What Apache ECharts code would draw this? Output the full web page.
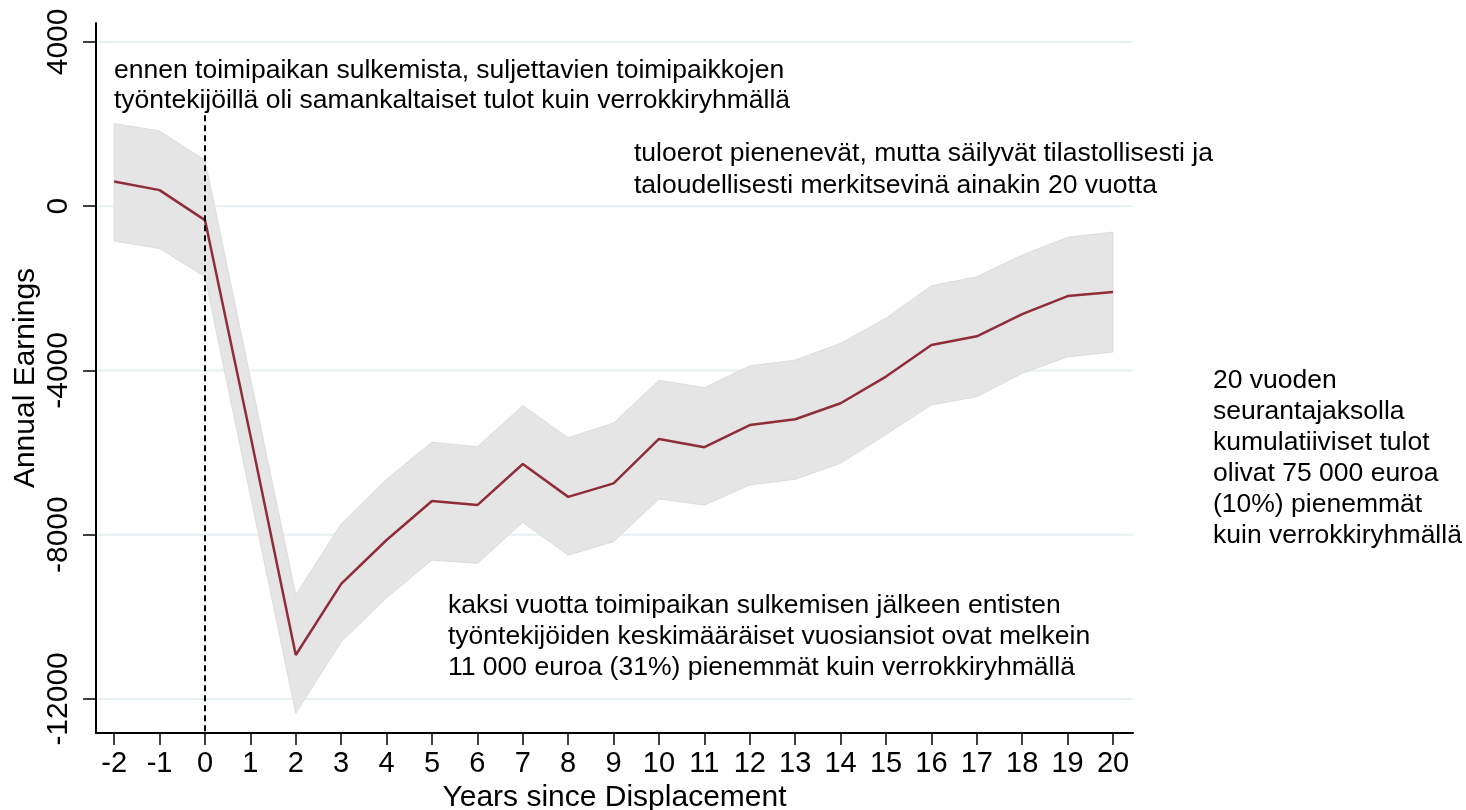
<!DOCTYPE html>
<html>
<head>
<meta charset="utf-8">
<script src="https://cdn.jsdelivr.net/npm/echarts@6/dist/echarts.min.js"></script>
<style>
html,body{margin:0;padding:0;background:#fff;}
#chart{width:1466px;height:810px;}
</style>
</head>
<body>
<div id="chart"></div>
<script>
// ---- data ----
var years = [-2,-1,0,1,2,3,4,5,6,7,8,9,10,11,12,13,14,15,16,17,18,19,20];
var estimate = [600,390,-340,-5580,-10930,-9200,-8130,-7180,-7280,-6280,-7080,-6750,-5670,-5870,-5330,-5190,-4800,-4150,-3380,-3170,-2630,-2190,-2090];
var upper = [2010,1830,1120,-4180,-9470,-7740,-6650,-5750,-5860,-4860,-5640,-5280,-4240,-4420,-3890,-3750,-3340,-2730,-1940,-1720,-1190,-760,-630];
var lower = [-850,-1030,-1720,-7040,-12350,-10610,-9540,-8620,-8700,-7700,-8500,-8170,-7130,-7280,-6790,-6650,-6260,-5560,-4840,-4640,-4070,-3670,-3550];
var yTicks = [-12000,-8000,-4000,0,4000];
var xTicks = years.slice();
var xName = 'Years since Displacement';
var yName = 'Annual Earnings';
var eventYear = 0;
var eventLineTop = 2215;
var notes = {
  before: 'ennen toimipaikan sulkemista, suljettavien toimipaikkojen\ntyöntekijöillä oli samankaltaiset tulot kuin verrokkiryhmällä',
  persist: 'tuloerot pienenevät, mutta säilyvät tilastollisesti ja\ntaloudellisesti merkitsevinä ainakin 20 vuotta',
  drop: 'kaksi vuotta toimipaikan sulkemisen jälkeen entisten\ntyöntekijöiden keskimääräiset vuosiansiot ovat melkein\n11 000 euroa (31%) pienemmät kuin verrokkiryhmällä',
  cumulative: '20 vuoden\nseurantajaksolla\nkumulatiiviset tulot\nolivat 75 000 euroa\n(10%) pienemmät\nkuin verrokkiryhmällä'
};

var FONT = '"Liberation Sans", Arial, Helvetica, sans-serif';
var Y_MIN = -12830, Y_MAX = 4460;
var X_MIN = -2.4, X_MAX = 20.44;

var chart = echarts.init(document.getElementById('chart'), null, {renderer: 'canvas'});

var lineData = years.map(function(y, i){ return [y, estimate[i]]; });

function textEl(txt, x, y, lh) {
  return {
    type: 'text', left: x, top: y, z: 10,
    style: {text: txt, fontFamily: FONT, fontSize: 26.5, lineHeight: lh, fill: '#000'}
  };
}

var option = {
  animation: false,
  backgroundColor: '#fff',
  grid: {left: 96, right: 333, top: 23, bottom: 77, containLabel: false, outerBoundsMode: 'none'},
  xAxis: {
    type: 'value', min: X_MIN, max: X_MAX,
    name: xName, nameLocation: 'middle', nameGap: 50, nameMoveOverlap: false,
    nameTextStyle: {fontFamily: FONT, fontSize: 30, color: '#000'},
    axisLine: {show: true, onZero: false, lineStyle: {color: '#000', width: 2}},
    axisTick: {show: true, length: 12, lineStyle: {color: '#000', width: 1.5}, customValues: xTicks},
    axisLabel: {fontFamily: FONT, fontSize: 29, color: '#000', margin: 16, customValues: xTicks,
      formatter: function(v){ return String(v); }},
    splitLine: {show: false}
  },
  yAxis: {
    type: 'value', min: Y_MIN, max: Y_MAX,
    name: yName, nameLocation: 'middle', nameGap: 55, nameMoveOverlap: false,
    nameTextStyle: {fontFamily: FONT, fontSize: 30, color: '#000'},
    axisLine: {show: true, onZero: false, lineStyle: {color: '#000', width: 2}},
    axisTick: {show: true, length: 13, lineStyle: {color: '#000', width: 1.5}, customValues: yTicks},
    axisLabel: {fontFamily: FONT, fontSize: 30, color: '#000', margin: 22, rotate: 90, customValues: yTicks,
      formatter: function(v){ return String(v); }},
    splitLine: {show: false}
  },
  series: [
    {
      type: 'custom', name: 'grid', z: 1, silent: true,
      data: yTicks,
      renderItem: function(params, api){
        var v = api.value(0);
        var p1 = api.coord([X_MIN, v]);
        var p2 = api.coord([X_MAX, v]);
        return {type: 'line', shape: {x1: p1[0] + 2, y1: p1[1], x2: p2[0], y2: p2[1]},
          style: {stroke: '#e6eff1', lineWidth: 2}};
      },
      encode: {y: 0}
    },
    {
      type: 'custom', name: 'ci', z: 2, silent: true,
      data: [0],
      renderItem: function(params, api){
        var pts = [];
        for (var i = 0; i < years.length; i++) pts.push(api.coord([years[i], upper[i]]));
        for (var j = years.length - 1; j >= 0; j--) pts.push(api.coord([years[j], lower[j]]));
        return {type: 'polygon', shape: {points: pts},
          style: {fill: '#e5e5e5', stroke: '#dcdcdc', lineWidth: 1}};
      }
    },
    {
      type: 'line', name: 'estimate', z: 3,
      data: lineData, showSymbol: false, symbol: 'none',
      lineStyle: {color: '#8f2d38', width: 2.5},
      markLine: {
        silent: true, symbol: ['none', 'none'], label: {show: false},
        lineStyle: {color: '#000', width: 2, type: [6, 4]},
        data: [[{coord: [eventYear, eventLineTop]}, {coord: [eventYear, Y_MIN]}]]
      }
    }
  ],
  graphic: [
    textEl(notes.before, 114, 56, 30),
    textEl(notes.persist, 634, 138, 32),
    textEl(notes.drop, 448, 590, 31),
    textEl(notes.cumulative, 1213, 365, 31)
  ]
};
chart.setOption(option);
</script>
</body>
</html>
